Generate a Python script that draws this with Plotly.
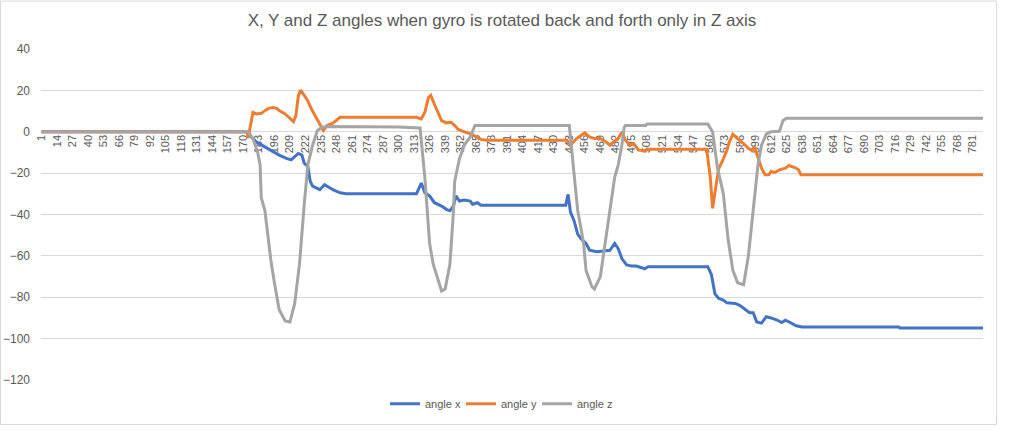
import plotly.graph_objects as go

# sample index (category) and values
x_idx = [1, 174, 175, 181, 188, 195, 200, 206, 210, 213, 216, 219, 221, 224, 226, 228, 234, 238, 245, 251,
         256, 315, 319, 322, 326, 330, 336, 340, 343, 346, 348, 351, 355, 360, 362, 366, 369, 440, 442, 444,
         447, 450, 453, 457, 460, 466, 471, 477, 481, 484, 487, 491, 495, 499, 503, 506, 509, 559, 562, 565,
         568, 572, 575, 582, 586, 590, 594, 597, 600, 604, 608, 612, 617, 621, 624, 628, 633, 638, 719, 720, 790]
angle_x = [0, 0, -1.7, -5, -7.3, -9.7, -11.3, -12.9, -13.6, -12, -10.5, -11.3, -15.2, -16.8, -24, -26.3, -28, -25.6, -28, -29.5,
           -30, -30, -24.8, -29.5, -31, -34.3, -35.9, -37.5, -38.2, -35.9, -31, -33.5, -33, -33.5, -35, -34.3, -35.5, -35.5, -30.3, -39,
           -43, -49.5, -51.8, -54, -57.3, -58, -57.6, -57.3, -54, -56.5, -61.3, -64.4, -64.9, -64.9, -65.6, -66.3, -65.2, -65.2, -69, -78.4,
           -80.5, -81.4, -82.7, -83, -84, -85.9, -87.5, -87.5, -91.9, -92.5, -89.4, -90, -91, -92.2, -91.1, -92.2, -93.8, -94.4, -94.4, -94.9, -94.9]

y_idx = [1, 173, 174, 177, 178, 181, 185, 188, 191, 195, 198, 200, 205, 209, 212, 214, 216, 218, 221, 224,
         227, 230, 233, 235, 237, 240, 245, 251, 315, 319, 322, 325, 327, 330, 333, 336, 340, 344, 347, 350,
         354, 358, 362, 365, 369, 374, 441, 444, 449, 453, 456, 460, 464, 468, 473, 477, 480, 484, 487, 490,
         494, 497, 501, 506, 510, 558, 561, 563, 565, 568, 571, 575, 577, 580, 584, 589, 593, 596, 598, 601,
         604, 607, 610, 612, 615, 619, 624, 627, 632, 635, 637, 790]
angle_y = [0, 0, -3, 7.8, 9.4, 8.6, 8.9, 10.2, 11.3, 11.7, 11.3, 10.2, 8.6, 6.5, 4.9, 7.8, 17.3, 20.2, 17.3, 14.9,
           11, 7.8, 4.6, 2.2, 0.6, 3, 4.1, 7, 7, 6.2, 9.4, 16.5, 17.6, 13.3, 9.4, 5.4, 4.3, 4.6, 3, 1.1,
           0.2, -0.5, -1.4, -2.5, -3.7, -4.1, -4.1, -6.5, -3.3, -1.7, -0.5, -2.5, -3.3, -3, -4.6, -6.5, -4.9, -3.3, -0.2, -4.1,
           -6.5, -5.7, -8.9, -9.2, -8.4, -8.4, -21.5, -37, -30, -18, -14.5, -9, -5, -1.2, -3.3, -5.7, -8.1, -8.9, -7.3, -12,
           -17.6, -20.8, -20.8, -19.2, -19.7, -18.4, -17.6, -16.3, -17.3, -18.4, -20.8, -20.8]

z_idx = [1, 174, 178, 182, 184, 185, 188, 191, 193, 196, 200, 205, 209, 213, 217, 221, 224, 228, 232, 236,
         240, 300, 318, 322, 326, 329, 332, 336, 339, 343, 346, 347, 351, 355, 360, 364, 443, 447, 450, 455,
         457, 462, 464, 469, 473, 477, 481, 484, 487, 489, 490, 507, 508, 559, 563, 567, 572, 576, 580, 584,
         589, 593, 596, 598, 601, 604, 608, 612, 619, 622, 625, 790]
angle_z = [0, 0, -3.3, -10, -16, -32, -38, -54, -62, -73, -86, -91.5, -92, -83, -64, -35, -16, -6.5, 0.6, 2.2,
           2.5, 2.3, 1.8, -22, -54, -64, -70, -77, -76, -64, -38, -24, -13, -6.5, -2.5, 3, 3, -22, -38, -54,
           -67, -75, -76, -70, -54, -37, -22, -16, -6.5, 2.2, 3, 3, 3.8, 3.8, 0, -17, -30, -52, -67, -73,
           -74, -60, -43, -30, -16, -6.5, -1, 0, 0.2, 5.4, 6.5, 6.5]

tick_labels = list(range(1, 790, 13))
y_ticks = [40, 20, 0, -20, -40, -60, -80, -100, -120]

TXT = "#595959"
GRID = "#D9D9D9"
FONT = "Liberation Sans, Arial, sans-serif"

W, H = 1010, 430
ML, MR, MT, MB = 41, 27, 49, 46
PW, PH = W - ML - MR, H - MT - MB

fig = go.Figure()
for name, xs, ys, col in [("angle x", x_idx, angle_x, "#4472C4"),
                          ("angle y", y_idx, angle_y, "#ED7D31"),
                          ("angle z", z_idx, angle_z, "#A5A5A5")]:
    fig.add_trace(go.Scatter(x=xs, y=ys, mode="lines", name=name,
                             line=dict(color=col, width=3)))

fig.update_layout(
    width=W, height=H,
    margin=dict(l=ML, r=MR, t=MT, b=MB),
    paper_bgcolor="white", plot_bgcolor="white",
    font=dict(family=FONT, color=TXT, size=12),
    title=dict(text="X, Y and Z angles when gyro is rotated back and forth only in Z axis",
               x=502 / W, xref="container", xanchor="center",
               y=1 - 20 / H, yref="container", yanchor="middle",
               font=dict(family=FONT, size=17, color=TXT)),
    showlegend=True,
    legend=dict(orientation="h", x=(499 - ML) / PW, xanchor="center",
                y=(PH - (408 - MT)) / PH, yanchor="middle",
                font=dict(size=11, color=TXT), bgcolor="rgba(0,0,0,0)",
                itemwidth=30, entrywidth=31, entrywidthmode="pixels"),
    xaxis=dict(range=[0.5, 789.5], tickmode="array", tickvals=tick_labels,
               ticktext=[str(t) for t in tick_labels], tickangle=-90,
               anchor="free", position=0.75, showgrid=False, showline=False,
               zeroline=False, ticks="", tickfont=dict(size=11, color=TXT),
               layer="below traces", automargin=False),
    yaxis=dict(range=[-120, 40], tickvals=y_ticks, showgrid=True, gridcolor=GRID,
               gridwidth=1, zeroline=True, zerolinecolor=GRID, zerolinewidth=1,
               showline=False, ticks="", ticklabelstandoff=10, automargin=False,
               tickfont=dict(size=12, color=TXT)),
    shapes=[
        dict(type="rect", xref="paper", yref="paper",
             x0=(0.5 - ML) / PW, x1=(996.5 - ML) / PW,
             y0=(PH - (429 - MT)) / PH, y1=(PH - (0.5 - MT)) / PH,
             line=dict(color=GRID, width=1), fillcolor="rgba(0,0,0,0)", layer="below"),
    ],
)

# remove the default 8px page margin so the figure fills the window exactly
fig.write_html("out.html", config={"displayModeBar": False},
               post_script="document.body.style.margin='0px';")
